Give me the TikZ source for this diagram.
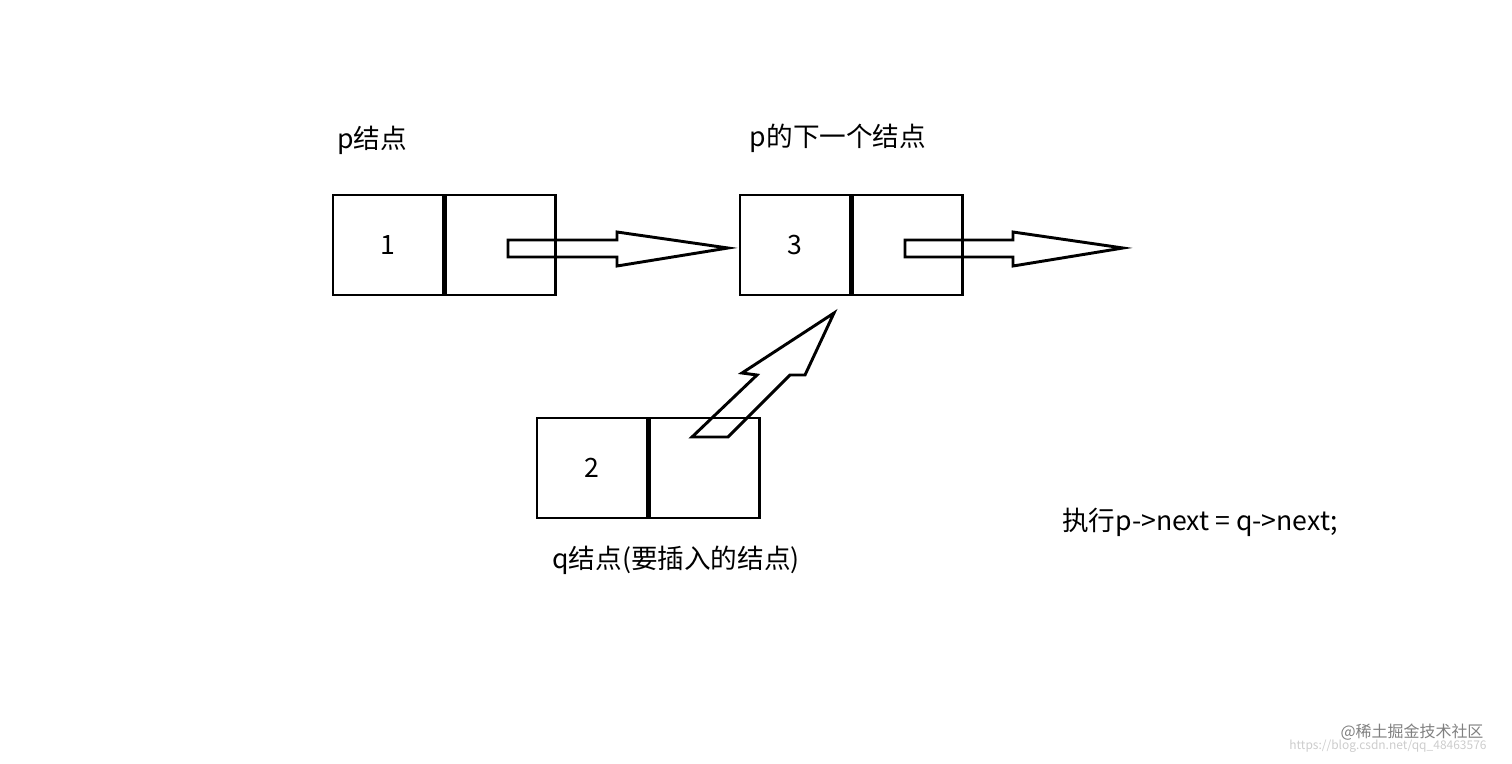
\documentclass[tikz,border=0pt]{standalone}
\usepackage{fontspec}
\setmainfont{Noto Sans CJK SC}
\begin{document}
\begin{tikzpicture}[x=0.0264cm,y=-0.0264cm,
  cell/.style={draw,line width=2.2pt,minimum width=110*0.0264cm,minimum height=100*0.0264cm,inner sep=0pt,font=\fontsize{20}{24}\selectfont},
  hollow/.style={draw,line width=2.2pt,line join=miter},
  lbl/.style={font=\fontsize{20}{24}\selectfont,inner sep=0pt}]
\useasboundingbox (0,0) rectangle (1512,763);
\node[cell] (a1) at (388,245) {1};
\node[cell,anchor=west] (a2) at (a1.east) {};
\node[cell] (c1) at (795,245) {3};
\node[cell,anchor=west] (c2) at (c1.east) {};
\node[cell] (b1) at (592,468) {2};
\node[cell,anchor=west] (b2) at (b1.east) {};
\draw[hollow] (508,240) -- (617,240) -- (617,232) -- (728,248) -- (617,266) -- (617,257) -- (508,257) -- cycle;
\draw[hollow] (905,240) -- (1013,240) -- (1013,232) -- (1123,248) -- (1013,266) -- (1013,257) -- (905,257) -- cycle;
\draw[hollow] (692,437) -- (728,437) -- (790,375) -- (805,375) -- (834,313) -- (742,373) -- (757,375) -- cycle;
\node[lbl] (t1) at (372,140) {p结点};
\node[lbl] (t2) at (838,138) {p的下一个结点};
\node[lbl] (t3) at (676,560) {q结点(要插入的结点)};
\node[lbl] (t4) at (1200,522) {执行p->next = q->next;};
\node[font=\fontsize{12}{14}\selectfont,text=gray,inner sep=0pt] (w1) at (1412,732) {@稀土掘金技术社区};
\node[font=\fontsize{9}{11}\selectfont,text=gray!40,inner sep=0pt] (w2) at (1388,746) {https://blog.csdn.net/qq\_48463576};
\end{tikzpicture}
\end{document}
